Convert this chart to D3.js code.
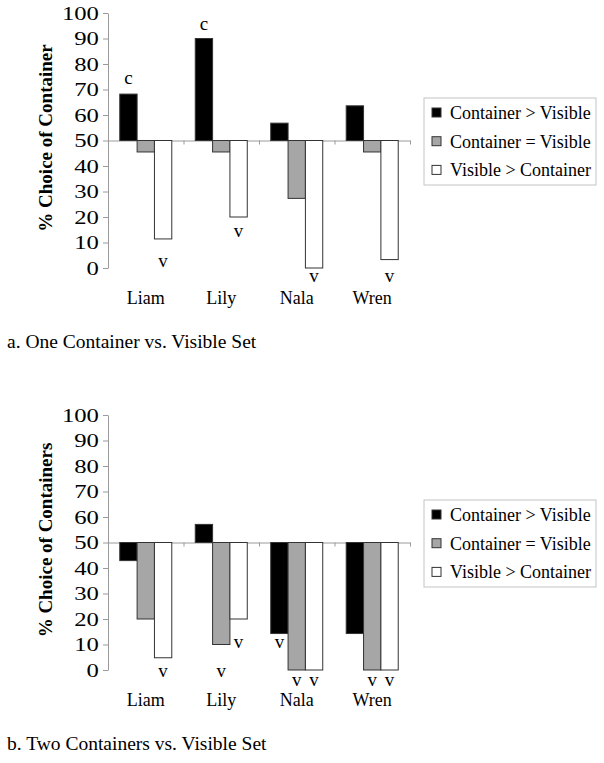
<!DOCTYPE html>
<html>
<head>
<meta charset="utf-8">
<script src="https://cdn.jsdelivr.net/npm/d3@7"></script>
<style>
  html, body { margin: 0; padding: 0; background: #fff; }
  svg { display: block; }
  text { font-family: "Liberation Serif", "Times New Roman", serif; fill: #000; }
</style>
</head>
<body>
<svg id="chart" width="604" height="763"></svg>
<script>
// ---- data ----
const categories = ["Liam", "Lily", "Nala", "Wren"];
const seriesNames = ["Container > Visible", "Container = Visible", "Visible > Container"];
const seriesColors = ["#000000", "#a6a6a6", "#ffffff"];
const yTicks = [0, 10, 20, 30, 40, 50, 60, 70, 80, 90, 100];
const baselineValue = 50;

// Panel a: One Container vs. Visible Set
const oneContainerOverVisible = [68.2, 90.0, 56.8, 63.6];
const oneContainerEqualVisible = [45.5, 45.5, 27.3, 45.5];
const oneVisibleOverContainer = [11.4, 20.0, 0.0, 3.3];
const oneLabels = [
  { cat: "Liam", s: 0, text: "c", at: 72 },
  { cat: "Lily", s: 0, text: "c", at: 93.3 },
  { cat: "Liam", s: 2, text: "v", at: 0.4 },
  { cat: "Lily", s: 2, text: "v", at: 12.2 },
  { cat: "Nala", s: 2, text: "v", at: -5.5 },
  { cat: "Wren", s: 2, text: "v", at: -5.5 }
];

// Panel b: Two Containers vs. Visible Set
const twoContainerOverVisible = [42.9, 57.1, 14.3, 14.3];
const twoContainerEqualVisible = [20.0, 10.0, 0.0, 0.0];
const twoVisibleOverContainer = [4.8, 20.0, 0.0, 0.0];
const twoLabels = [
  { cat: "Liam", s: 2, text: "v", at: -2.9 },
  { cat: "Lily", s: 1, text: "v", at: -2.9 },
  { cat: "Lily", s: 2, text: "v", at: 8.5 },
  { cat: "Nala", s: 0, text: "v", at: 8.5 },
  { cat: "Nala", s: 1, text: "v", at: -6.4 },
  { cat: "Nala", s: 2, text: "v", at: -6.4 },
  { cat: "Wren", s: 1, text: "v", at: -6.4 },
  { cat: "Wren", s: 2, text: "v", at: -6.4 }
];

// ---- drawing ----
const svg = d3.select("#chart");
const axisColor = "#9a9a9a";

function drawPanel(opts) {
  const { top, series, labels, yTitle, caption } = opts;
  const plotH = 255;
  const x0 = 108, x1 = 410;
  const g = svg.append("g");

  const y = d3.scaleLinear().domain([0, 100]).range([top + plotH, top]);
  const x = d3.scaleBand().domain(categories).range([x0, x1])
    .paddingInner(0.311).paddingOuter(0.156);
  const xs = d3.scaleBand().domain(d3.range(seriesNames.length)).range([0, x.bandwidth()]);
  const xb = d3.scaleLinear().domain([0, categories.length]).range([x0, x1]);

  // y axis
  const yAxis = g.append("g").attr("transform", `translate(${x0},0)`)
    .call(d3.axisLeft(y).tickValues(yTicks).tickSize(5).tickSizeOuter(0).tickPadding(2));
  yAxis.select(".domain").attr("stroke", axisColor);
  yAxis.selectAll(".tick line").attr("stroke", axisColor);
  yAxis.selectAll(".tick text")
    .attr("font-family", "Liberation Serif")
    .attr("font-size", 19)
    .attr("fill", "#000")
    .attr("transform", "scale(1.3,1)")
    .attr("dy", "0.34em");

  // category axis crossing at 50
  const xAxis = g.append("g").attr("transform", `translate(0,${y(baselineValue)})`)
    .call(d3.axisBottom(xb).tickValues(d3.range(1, categories.length + 1))
      .tickFormat("").tickSize(4).tickSizeOuter(0));
  xAxis.select(".domain").attr("stroke", axisColor);
  xAxis.selectAll(".tick line").attr("stroke", axisColor);

  // bars
  const rows = [];
  categories.forEach((c, i) => {
    series.forEach((arr, s) => rows.push({ cat: c, s, v: arr[i] }));
  });
  g.append("g").selectAll("rect").data(rows).join("rect")
    .attr("x", d => x(d.cat) + xs(d.s))
    .attr("width", xs.bandwidth())
    .attr("y", d => Math.min(y(d.v), y(baselineValue)))
    .attr("height", d => Math.abs(y(d.v) - y(baselineValue)))
    .attr("fill", d => seriesColors[d.s])
    .attr("stroke", "#333")
    .attr("stroke-width", 1);

  // significance labels
  g.append("g").selectAll("text").data(labels).join("text")
    .attr("x", d => x(d.cat) + xs(d.s) + xs.bandwidth() / 2)
    .attr("y", d => y(d.at))
    .attr("text-anchor", "middle")
    .attr("font-size", 19)
    .text(d => d.text);

  // category labels
  g.append("g").selectAll("text").data(categories).join("text")
    .attr("x", d => x(d) + x.bandwidth() / 2)
    .attr("y", y(0) + 36)
    .attr("text-anchor", "middle")
    .attr("font-size", 18)
    .text(d => d);

  // y title
  g.append("text")
    .attr("transform", `translate(52,${(y(0) + y(100)) / 2 - 2.5}) rotate(-90)`)
    .attr("text-anchor", "middle")
    .attr("font-size", 19)
    .attr("font-weight", "bold")
    .text(yTitle);

  // legend
  const lg = g.append("g").attr("transform", `translate(424,${top + 85})`);
  lg.append("rect").attr("x", 0).attr("y", 0).attr("width", 172).attr("height", 87)
    .attr("fill", "#fff").attr("stroke", "#c4c4c4");
  const items = lg.selectAll("g.item").data(seriesNames).join("g")
    .attr("class", "item")
    .attr("transform", (d, i) => `translate(8,${15 + i * 28.7})`);
  items.append("rect").attr("x", 0).attr("y", -5).attr("width", 9).attr("height", 9)
    .attr("fill", (d, i) => seriesColors[i]).attr("stroke", "#333");
  items.append("text").attr("x", 18).attr("y", 6)
    .attr("font-size", 18).text(d => d);

  // caption
  g.append("text").attr("x", 7).attr("y", y(0) + 80)
    .attr("font-size", 19.5).text(caption);
}

drawPanel({
  top: 13,
  series: [oneContainerOverVisible, oneContainerEqualVisible, oneVisibleOverContainer],
  labels: oneLabels,
  yTitle: "% Choice of Container",
  caption: "a. One Container vs. Visible Set"
});

drawPanel({
  top: 415,
  series: [twoContainerOverVisible, twoContainerEqualVisible, twoVisibleOverContainer],
  labels: twoLabels,
  yTitle: "% Choice of Containers",
  caption: "b. Two Containers vs. Visible Set"
});
</script>
</body>
</html>
